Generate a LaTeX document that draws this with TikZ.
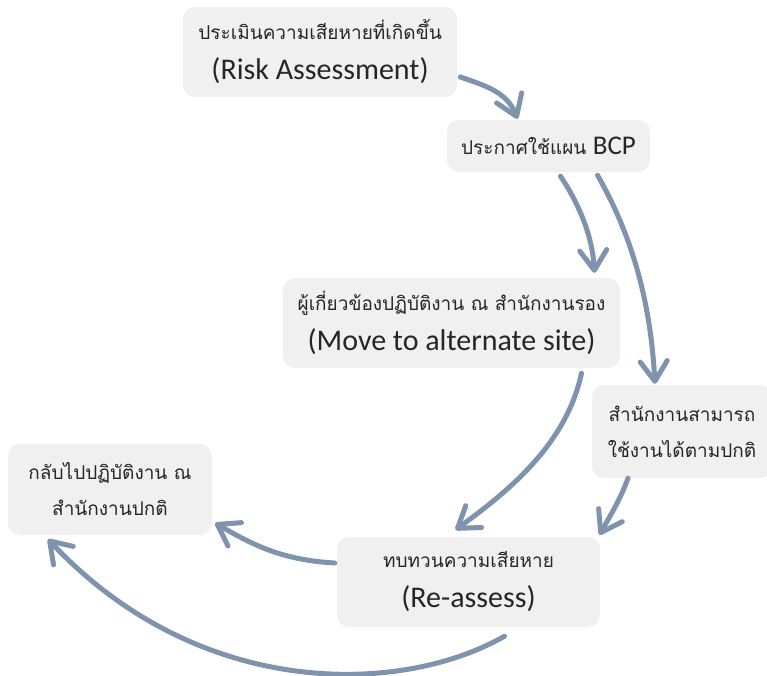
\documentclass[tikz,border=0pt]{standalone}
\usepackage{fontspec}
\setmainfont{Carlito}
\newfontfamily\thaifont[Script=Thai]{Loma}
\usetikzlibrary{arrows.meta}
\definecolor{flowblue}{HTML}{7F93AE}
\definecolor{boxgrey}{HTML}{F0F0F0}
\newcommand{\thline}{\fontsize{19}{36}\thaifont}
\newcommand{\enline}{\fontsize{30}{40}\selectfont}
\tikzset{
  box/.style={fill=boxgrey, rounded corners=12pt, align=center, inner sep=0pt,
    text=black!85, font=\enline},
  flow/.style={draw=flowblue, line width=5pt, line cap=round, line join=round,
    -{Straight Barb[length=20pt,width=27pt,line cap=round,line join=round]}}
}
\begin{document}
\begin{tikzpicture}[x=1pt,y=-1pt]
\useasboundingbox (0,0) rectangle (767,676);

% process steps
\node[box, minimum width=274pt, minimum height=90pt] (assess) at (320,52)
  {{\thline ประเมินความเสียหายที่เกิดขึ้น}\\(Risk Assessment)};
\node[box, minimum width=203pt, minimum height=52pt] (bcp) at (548.5,146)
  {{\thline ประกาศใช้แผน }{\fontsize{27}{30}\selectfont BCP}};
\node[box, minimum width=337pt, minimum height=90pt] (alt) at (451.5,323)
  {{\thline ผู้เกี่ยวข้องปฏิบัติงาน ณ สำนักงานรอง}\\(Move to alternate site)};
\node[box, minimum width=180pt, minimum height=93pt, font=\thline] (usable) at (682,431.5)
  {สำนักงานสามารถ\\ใช้งานได้ตามปกติ};
\node[box, minimum width=204pt, minimum height=91pt, font=\thline] (back) at (110,489.5)
  {กลับไปปฏิบัติงาน ณ\\สำนักงานปกติ};
\node[box, minimum width=263pt, minimum height=90pt] (reassess) at (468.5,582)
  {{\thline ทบทวนความเสียหาย}\\(Re-assess)};

% hand-drawn flow arrows
\draw[flow] ([shift={(3,25)}]assess.east)
  .. controls +(30,10) and +(-10,-25) .. ([shift={(-31,-1)}]bcp.north);
\draw[flow] ([shift={(12,4)}]bcp.south)
  .. controls +(20,30) and +(-2,-35) .. ([shift={(143,-5)}]alt.north);
\draw[flow] ([shift={(49,3)}]bcp.south)
  .. controls +(40,70) and +(-4,-70) .. ([shift={(-27,-1)}]usable.north);
\draw[flow] ([shift={(130,5)}]alt.south)
  .. controls +(-15,70) and +(55,-40) .. ([shift={(-13,-7)}]reassess.north);
\draw[flow] ([shift={(-54,0)}]usable.south)
  .. controls +(-8,22) and +(10,-18) .. ([shift={(131,-2)}]reassess.north);
\draw[flow] ([shift={(-2,-19)}]reassess.west)
  .. controls +(-55,-3) and +(35,20) .. ([shift={(3,-12)}]back.south east);
\draw[flow] ([shift={(36,9)}]reassess.south)
  .. controls +(-105,60) and +(150,160) .. ([shift={(-62,4)}]back.south);
\end{tikzpicture}
\end{document}
